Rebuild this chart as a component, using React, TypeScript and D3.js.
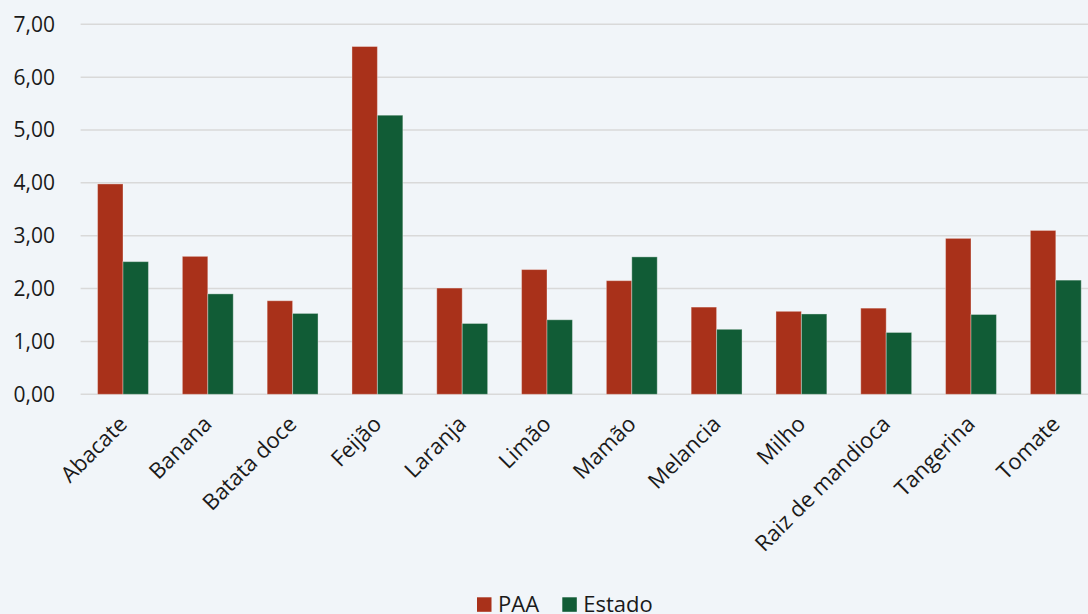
import React, { useEffect, useRef } from 'react';
import * as d3 from 'd3';

const categories = [
  'Abacate', 'Banana', 'Batata doce', 'Feijão', 'Laranja', 'Limão',
  'Mamão', 'Melancia', 'Milho', 'Raiz de mandioca', 'Tangerina', 'Tomate',
];
const paaValues = [3.98, 2.61, 1.77, 6.58, 2.01, 2.36, 2.15, 1.65, 1.57, 1.63, 2.95, 3.10];
const estadoValues = [2.51, 1.90, 1.53, 5.28, 1.34, 1.41, 2.60, 1.23, 1.52, 1.17, 1.51, 2.16];
const seriesNames = ['PAA', 'Estado'];
const yTicks = [0, 1, 2, 3, 4, 5, 6, 7];

const W = 1088;
const H = 614;
const FONT = '"Open Sans", "Noto Sans", sans-serif';
const colors = ['#a9311a', '#115c36'];

function App() {
  const ref = useRef<SVGSVGElement>(null);

  useEffect(() => {
    document.body.style.margin = '0';
    const svg = d3.select(ref.current);
    svg.selectAll('*').remove();

    svg.append('rect').attr('width', W).attr('height', H).attr('fill', '#f1f5f9');

    const left = 80.6;
    const right = 1098.2;
    const x = d3.scaleBand<string>().domain(categories).range([left, right]).paddingInner(0.4).paddingOuter(0.2);
    const x1 = d3.scaleBand<string>().domain(seriesNames).range([0, x.bandwidth()]);
    const y = d3.scaleLinear().domain([0, 7]).range([394.3, 24.3]);

    const grid = svg.append('g');
    grid.selectAll('line')
      .data(yTicks)
      .enter()
      .append('line')
      .attr('x1', left)
      .attr('x2', right)
      .attr('y1', (d) => y(d))
      .attr('y2', (d) => y(d))
      .attr('stroke', '#d9d9d9')
      .attr('stroke-width', 1.5);

    grid.selectAll('text')
      .data(yTicks)
      .enter()
      .append('text')
      .attr('x', 55)
      .attr('y', (d) => y(d))
      .attr('dy', '0.35em')
      .attr('text-anchor', 'end')
      .attr('font-family', FONT)
      .attr('font-size', 21)
      .attr('fill', '#1a1a1a')
      .text((d) => d3.format('.2f')(d).replace('.', ','));

    const groups = svg.append('g')
      .selectAll('g')
      .data(categories)
      .enter()
      .append('g')
      .attr('transform', (d) => `translate(${x(d)},0)`);

    groups.selectAll('rect')
      .data((d, i) => [paaValues[i], estadoValues[i]].map((v, j) => ({ key: seriesNames[j], v, j })))
      .enter()
      .append('rect')
      .attr('x', (d) => x1(d.key)!)
      .attr('width', x1.bandwidth())
      .attr('y', (d) => y(d.v))
      .attr('height', (d) => y(0) - y(d.v))
      .attr('fill', (d) => colors[d.j])
      .attr('stroke', 'rgba(255,255,255,0.35)')
      .attr('stroke-width', 1);

    svg.append('g')
      .selectAll('text')
      .data(categories)
      .enter()
      .append('text')
      .attr('transform', (d) => `translate(${x(d)! + x.bandwidth() / 2},${420}) rotate(-45)`)
      .attr('text-anchor', 'end')
      .attr('dy', '0.35em')
      .attr('font-family', FONT)
      .attr('font-size', 22)
      .attr('fill', '#1a1a1a')
      .text((d) => d);

    const legend = svg.append('g');
    const legendX = [477, 562.3];
    seriesNames.forEach((name, i) => {
      legend.append('rect')
        .attr('x', legendX[i])
        .attr('y', 597.3)
        .attr('width', 14.5)
        .attr('height', 14.5)
        .attr('fill', colors[i]);
      legend.append('text')
        .attr('x', legendX[i] + 21)
        .attr('y', 611.7)
        .attr('font-family', FONT)
        .attr('font-size', 22)
        .attr('fill', '#1a1a1a')
        .text(name);
    });
  }, []);

  return <svg ref={ref} width={W} height={H} style={{ display: 'block' }}></svg>;
}

export default App;
